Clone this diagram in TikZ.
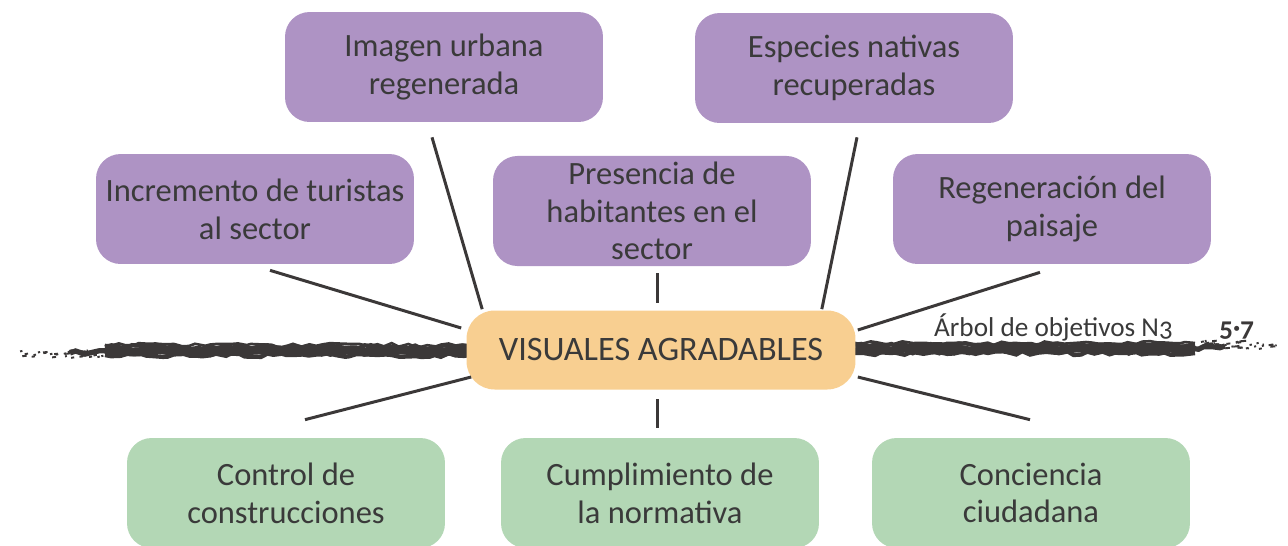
\documentclass[tikz,border=0pt]{standalone}
\usepackage{fontspec}
\setmainfont{Carlito}[Numbers=OldStyle]
\usepackage{xcolor}
\usetikzlibrary{positioning,decorations.pathmorphing}
\definecolor{vink}{HTML}{3B3838}
\definecolor{vtext}{HTML}{3A3A3A}
\definecolor{vpurple}{HTML}{AE93C4}
\definecolor{vgreen}{HTML}{B3D7B5}
\definecolor{vorange}{HTML}{F8CF91}

\tikzset{
  effect/.style={rectangle,rounded corners=14pt,fill=vpurple,text=vtext,
    minimum width=6.36cm,minimum height=2.2cm,align=center,
    font=\fontsize{18.5}{21.5}\selectfont},
  cause/.style={effect,fill=vgreen},
  goal/.style={effect,fill=vorange,minimum width=7.78cm,minimum height=1.58cm,
    rounded corners=16pt,font=\fontsize{19.5}{22}\selectfont},
  spoke/.style={vink,line width=1.7pt},
  brush/.style={vink,line width=#1,decorate,
    decoration={random steps,segment length=4pt,amplitude=1.1pt}},
  speck/.style={vink,line width=1.1pt},
}

\begin{document}
\begin{tikzpicture}[x=0.02cm,y=-0.02cm]
  \useasboundingbox (0,0) rectangle (1288,545);
  \pgfmathsetseed{11}

  % brush stroke behind the central objective
  \foreach \w/\dy in {5pt/0,2.5pt/-4,2.5pt/4,1.5pt/-6}{
    \draw[brush=\w] (105,{351+\dy}) -- (470,{351+\dy});
    \draw[brush=\w] (855,{349+\dy}) -- (1195,{349+\dy});
  }
  \draw[brush=3pt] (70,353) -- (110,351);
  \draw[brush=3pt] (1190,348) -- (1225,346);
  % ragged ends
  \foreach \i in {1,...,45}{
    \pgfmathsetmacro{\sx}{15+90*rnd^0.6}
    \pgfmathsetmacro{\sy}{350+8*rnd}
    \pgfmathsetmacro{\sl}{1+4*rnd}
    \draw[speck] (\sx,\sy) -- ++(\sl,-0.5);
  }
  \foreach \i in {1,...,45}{
    \pgfmathsetmacro{\sx}{1285-85*rnd^0.6}
    \pgfmathsetmacro{\sy}{341+8*rnd}
    \pgfmathsetmacro{\sl}{1+4*rnd}
    \draw[speck] (\sx,\sy) -- ++(\sl,-0.5);
  }

  % objective tree
  \node[goal] (visual) at (661,350) {VISUALES AGRADABLES};

  \node[effect] (imagen)     at (444,67)  {Imagen urbana\\regenerada};
  \node[effect] (especies)   at (854,68)  {Especies nativas\\recuperadas};
  \node[effect] (incremento) at (255,209) {Incremento de turistas\\al sector};
  \node[effect] (presencia)  at (652,211) {Presencia de\\habitantes en el\\sector};
  \node[effect] (regen)      at (1052,209) {Regeneración del\\paisaje};

  \node[cause] (control)  at (286,493)  {Control de\\construcciones};
  \node[cause] (cumple)   at (660,493)  {Cumplimiento de\\la normativa};
  \node[cause] (concien)  at (1031,493) {Conciencia\\ciudadana};

  \draw[spoke] ([shift={(-12,15)}]imagen.south) -- ([shift={(16,-1)}]visual.north west);
  \draw[spoke] ([shift={(3,14)}]especies.south) -- ([shift={(-34,-1)}]visual.north east);
  \draw[spoke] ([shift={(15,6)}]incremento.south) -- ([shift={(-5,-22)}]visual.west);
  \draw[spoke] ([shift={(5,7)}]presencia.south) -- ([shift={(-4,-7)}]visual.north);
  \draw[spoke] ([shift={(-12,8)}]regen.south) -- ([shift={(2,-20)}]visual.east);
  \draw[spoke] ([shift={(19,-18)}]control.north) -- ([shift={(5,27)}]visual.west);
  \draw[spoke] ([shift={(-3,-10)}]cumple.north) -- ([shift={(-4,9)}]visual.south);
  \draw[spoke] ([shift={(-1,-18)}]concien.north) -- ([shift={(2,27)}]visual.east);

  \node[text=vtext,font=\fontsize{15.5}{18}\selectfont,anchor=base west] (titulo)
    at (928,336) {Árbol de objetivos N3};
  \node[text=vink,font=\fontsize{15.5}{18}\selectfont\bfseries,anchor=base west] (lamina)
    at (1213,336) {5·7};
\end{tikzpicture}
\end{document}
